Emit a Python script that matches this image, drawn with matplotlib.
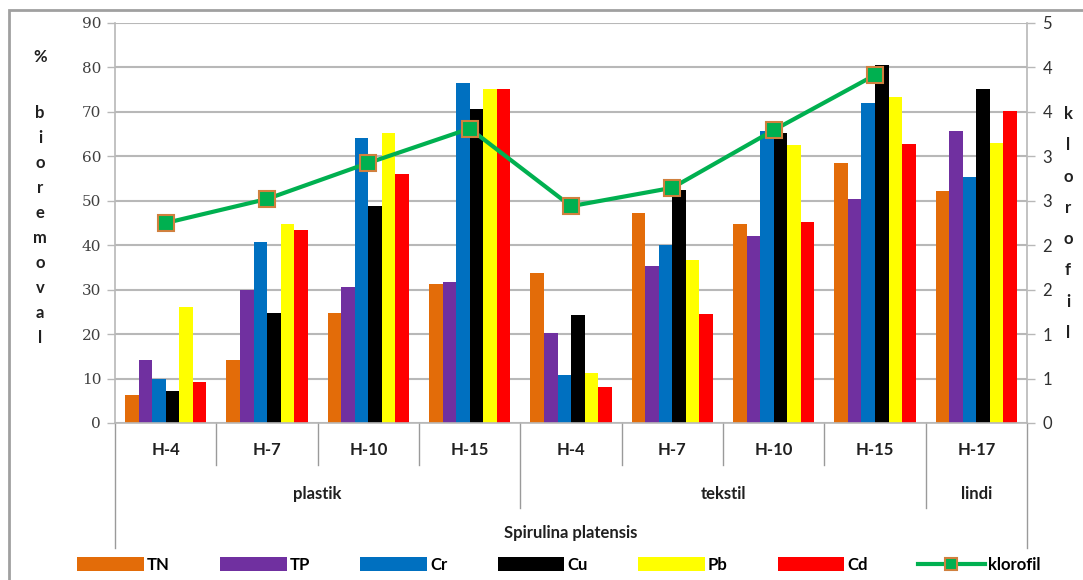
import numpy as np
import matplotlib
matplotlib.use('Agg')
import matplotlib.pyplot as plt
from matplotlib.lines import Line2D
from matplotlib.patches import Rectangle
import matplotlib.transforms as mtransforms

# hari pengamatan per limbah
days = ['H-4', 'H-7', 'H-10', 'H-15', 'H-4', 'H-7', 'H-10', 'H-15', 'H-17']
groups = ['plastik', 'tekstil', 'lindi']
group_sizes = [4, 4, 1]

# % bioremoval
tn = [6.3, 14.2, 24.8, 31.2, 33.8, 47.3, 44.8, 58.6, 52.3]
tp = [14.2, 29.9, 30.7, 31.8, 20.2, 35.4, 42.1, 50.5, 65.7]
cr = [9.9, 40.7, 64.2, 76.4, 10.8, 40.0, 65.6, 71.9, 55.4]
cu = [7.2, 24.8, 48.8, 70.6, 24.3, 52.4, 65.2, 80.5, 75.1]
pb = [26.0, 44.8, 65.2, 75.1, 11.3, 36.7, 62.6, 73.3, 62.9]
cd = [9.3, 43.4, 56.0, 75.1, 8.2, 24.5, 45.3, 62.7, 70.1]

# klorofil (sumbu kanan), lindi tidak diukur
klorofil = [2.5, 2.8, 3.25, 3.68, 2.71, 2.94, 3.66, 4.35, np.nan]

series = [('TN', tn, '#E36C09'), ('TP', tp, '#7030A0'), ('Cr', cr, '#0070C0'),
          ('Cu', cu, '#000000'), ('Pb', pb, '#FFFF00'), ('Cd', cd, '#FF0000')]

sans = ['Lato', 'DejaVu Sans']
grid_col = '#B8B8B8'

fig = plt.figure(figsize=(10.83, 5.80), dpi=100)
ax = fig.add_axes([0.1062, 0.2707, 0.8421, 0.6897])

x = np.arange(len(days))
w = 0.8 / len(series)
for i, (name, vals, col) in enumerate(series):
    ax.bar(x - 0.4 + w * (i + 0.5), vals, width=w, color=col, label=name, zorder=2)

ax.set_xlim(-0.5, len(days) - 0.5)
ax.set_ylim(0, 90)
ax.set_yticks(np.arange(0, 91, 10))
ax.set_yticklabels([str(v) for v in range(0, 91, 10)], family='DejaVu Serif',
                   fontsize=11, color='#404040')
ax.yaxis.grid(True, color=grid_col, lw=1.5, zorder=0)
ax.set_axisbelow(True)
ax.set_xticks([])
ax.tick_params(axis='y', length=6, width=1, color=grid_col, pad=4)
for s in ['left', 'bottom', 'right']:
    ax.spines[s].set_color(grid_col)
    ax.spines[s].set_linewidth(1.2)
ax.spines['top'].set_visible(False)

ax2 = ax.twinx()
ax2.plot(x, klorofil, color='#00B050', lw=3, marker='s', markersize=11.5,
         markerfacecolor='#00B050', markeredgecolor='#D0803E', markeredgewidth=1.5,
         label='klorofil', zorder=5)
ax2.set_ylim(0, 5)
rt = np.linspace(0, 5, 10)
ax2.set_yticks(rt)
ax2.set_yticklabels([f'{v:.0f}' for v in rt], family=sans, fontsize=12, color='#303030')
ax2.tick_params(axis='y', length=6, width=1, color=grid_col, pad=5)
for s in ['left', 'bottom', 'right', 'top']:
    ax2.spines[s].set_visible(False)

# sumbu kategori bertingkat
trans = mtransforms.blended_transform_factory(ax.transData, ax.transAxes)
bounds = np.arange(len(days) + 1) - 0.5
group_edges = np.concatenate([[0], np.cumsum(group_sizes)]) - 0.5
for b in bounds:
    if b in (bounds[0], bounds[-1]):
        y_end = -0.3125
    elif b in group_edges:
        y_end = -0.2125
    else:
        y_end = -0.105
    ax.add_line(Line2D([b, b], [0, y_end], transform=trans, color='#9A9A9A',
                       lw=1, clip_on=False))

for xi, d in zip(x, days):
    ax.text(xi, -0.0675, d, transform=trans, ha='center', va='center',
            family=sans, fontsize=12, fontweight='bold', color='#202020')
for g, lo, hi in zip(groups, group_edges[:-1], group_edges[1:]):
    ax.text((lo + hi) / 2, -0.1775, g, transform=trans, ha='center', va='center',
            family=sans, fontsize=12, fontweight='bold', color='#202020')
ax.text((bounds[0] + bounds[-1]) / 2, -0.275, 'Spirulina platensis', transform=trans,
        ha='center', va='center', family=sans, fontsize=12, fontweight='bold',
        color='#202020')

# judul sumbu ditulis menurun
left_letters = list('%') + list('biore') + list('moval')
left_y = [57] + list(np.linspace(113, 338, 10))
for ch, yp in zip(left_letters, left_y):
    fig.text(40 / 1083, 1 - yp / 580, ch, ha='center', va='center', family=sans,
             fontsize=12, fontweight='bold', color='#202020')
right_letters = list('klorofil')
for ch, yp in zip(right_letters, np.linspace(114, 333, 8)):
    fig.text(1068 / 1083, 1 - yp / 580, ch, ha='center', va='center', family=sans,
             fontsize=12, fontweight='bold', color='#202020')

# legenda
h1, l1 = ax.get_legend_handles_labels()
h2, l2 = ax2.get_legend_handles_labels()
fig.legend(h1 + h2, l1 + l2, loc='center', bbox_to_anchor=(0.516, 1 - 565 / 580),
           ncol=7, frameon=False, handlelength=4.0, handletextpad=0.2,
           columnspacing=3.0, markerscale=0.75, handleheight=0.9,
           prop={'family': sans, 'size': 12, 'weight': 'bold'})

# bingkai luar
fig.add_artist(Rectangle((9 / 1083, -0.05), 1.2, 1 - 10 / 580 + 0.05,
                         transform=fig.transFigure, fill=False,
                         edgecolor='#A0A0A0', lw=2))

fig.savefig('out.png', dpi=100)
